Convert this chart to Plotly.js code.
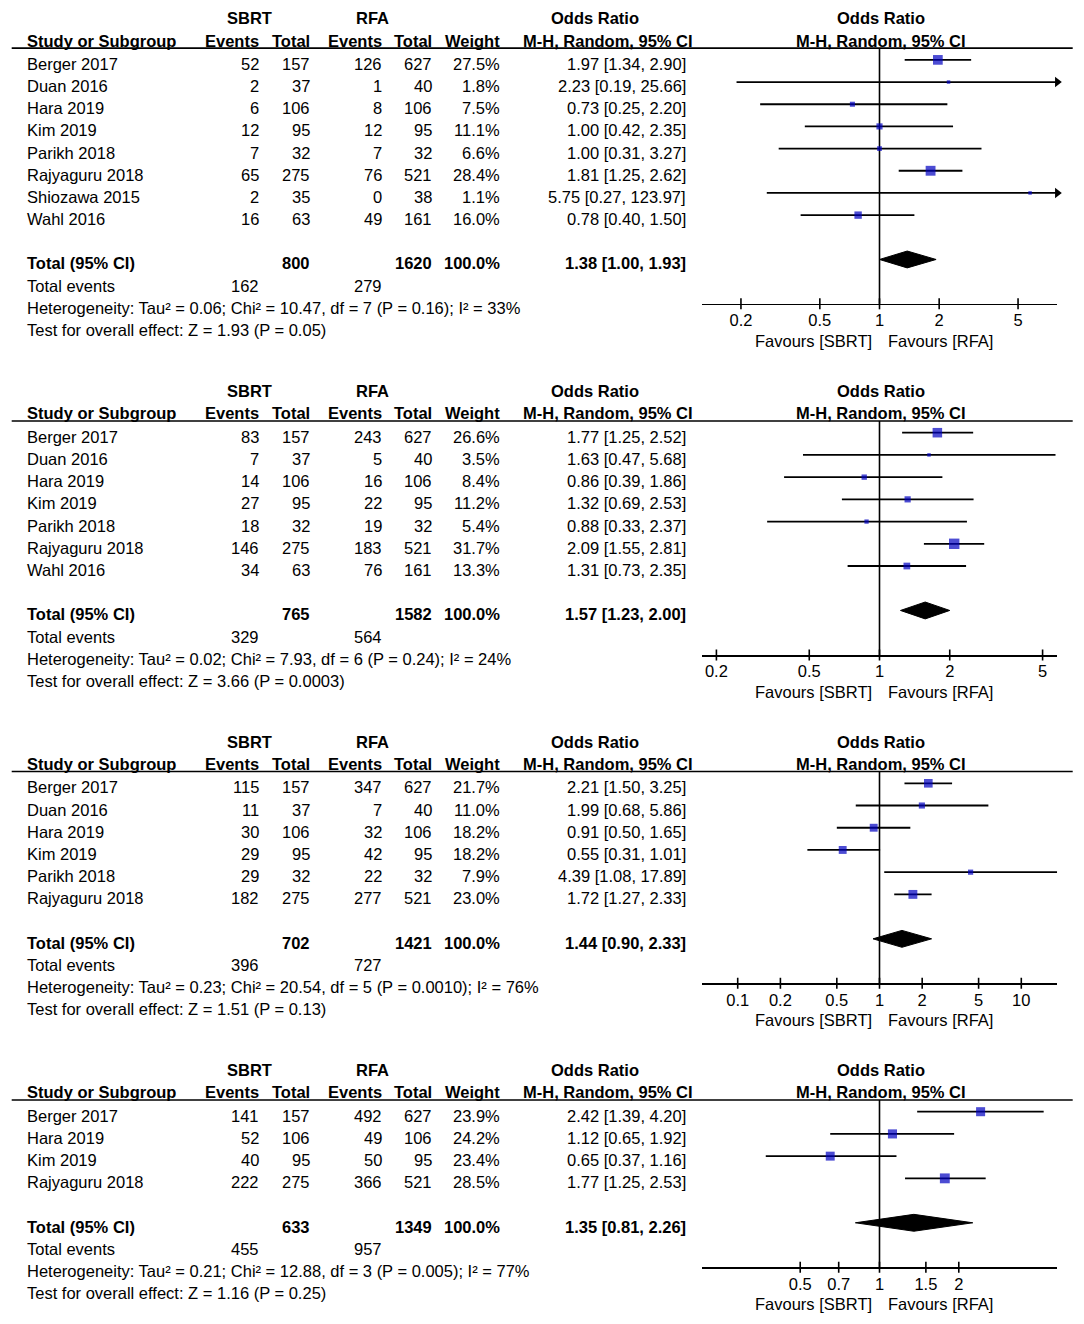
<!DOCTYPE html>
<html><head><meta charset="utf-8">
<script src="https://cdn.plot.ly/plotly-3.0.1.min.js"></script>
<style>html,body{margin:0;padding:0;background:#fff}#chart{width:1084px;height:1324px}</style>
</head><body><div id="chart"></div>
<script>
// ---------------- DATA ----------------
// Panel 1
const studies1 = ["Berger 2017","Duan 2016","Hara 2019","Kim 2019","Parikh 2018","Rajyaguru 2018","Shiozawa 2015","Wahl 2016"];
const sbrtEvents1 = [52,2,6,12,7,65,2,16];
const sbrtTotal1 = [157,37,106,95,32,275,35,63];
const rfaEvents1 = [126,1,8,12,7,76,0,49];
const rfaTotal1 = [627,40,106,95,32,521,38,161];
const weight1 = [27.5,1.8,7.5,11.1,6.6,28.4,1.1,16.0];
const or1 = [1.97,2.23,0.73,1.00,1.00,1.81,5.75,0.78];
const lo1 = [1.34,0.19,0.25,0.42,0.31,1.25,0.27,0.40];
const hi1 = [2.90,25.66,2.20,2.35,3.27,2.62,123.97,1.50];
const totalN1 = [800,1620];
const totalOR1 = [1.38,1.00,1.93];
const totalEvents1 = [162,279];
const het1 = "Heterogeneity: Tau² = 0.06; Chi² = 10.47, df = 7 (P = 0.16); I² = 33%";
const test1 = "Test for overall effect: Z = 1.93 (P = 0.05)";
const ticks1 = [0.2,0.5,1,2,5];

// Panel 2
const studies2 = ["Berger 2017","Duan 2016","Hara 2019","Kim 2019","Parikh 2018","Rajyaguru 2018","Wahl 2016"];
const sbrtEvents2 = [83,7,14,27,18,146,34];
const sbrtTotal2 = [157,37,106,95,32,275,63];
const rfaEvents2 = [243,5,16,22,19,183,76];
const rfaTotal2 = [627,40,106,95,32,521,161];
const weight2 = [26.6,3.5,8.4,11.2,5.4,31.7,13.3];
const or2 = [1.77,1.63,0.86,1.32,0.88,2.09,1.31];
const lo2 = [1.25,0.47,0.39,0.69,0.33,1.55,0.73];
const hi2 = [2.52,5.68,1.86,2.53,2.37,2.81,2.35];
const totalN2 = [765,1582];
const totalOR2 = [1.57,1.23,2.00];
const totalEvents2 = [329,564];
const het2 = "Heterogeneity: Tau² = 0.02; Chi² = 7.93, df = 6 (P = 0.24); I² = 24%";
const test2 = "Test for overall effect: Z = 3.66 (P = 0.0003)";
const ticks2 = [0.2,0.5,1,2,5];

// Panel 3
const studies3 = ["Berger 2017","Duan 2016","Hara 2019","Kim 2019","Parikh 2018","Rajyaguru 2018"];
const sbrtEvents3 = [115,11,30,29,29,182];
const sbrtTotal3 = [157,37,106,95,32,275];
const rfaEvents3 = [347,7,32,42,22,277];
const rfaTotal3 = [627,40,106,95,32,521];
const weight3 = [21.7,11.0,18.2,18.2,7.9,23.0];
const or3 = [2.21,1.99,0.91,0.55,4.39,1.72];
const lo3 = [1.50,0.68,0.50,0.31,1.08,1.27];
const hi3 = [3.25,5.86,1.65,1.01,17.89,2.33];
const totalN3 = [702,1421];
const totalOR3 = [1.44,0.90,2.33];
const totalEvents3 = [396,727];
const het3 = "Heterogeneity: Tau² = 0.23; Chi² = 20.54, df = 5 (P = 0.0010); I² = 76%";
const test3 = "Test for overall effect: Z = 1.51 (P = 0.13)";
const ticks3 = [0.1,0.2,0.5,1,2,5,10];

// Panel 4
const studies4 = ["Berger 2017","Hara 2019","Kim 2019","Rajyaguru 2018"];
const sbrtEvents4 = [141,52,40,222];
const sbrtTotal4 = [157,106,95,275];
const rfaEvents4 = [492,49,50,366];
const rfaTotal4 = [627,106,95,521];
const weight4 = [23.9,24.2,23.4,28.5];
const or4 = [2.42,1.12,0.65,1.77];
const lo4 = [1.39,0.65,0.37,1.25];
const hi4 = [4.20,1.92,1.16,2.53];
const totalN4 = [633,1349];
const totalOR4 = [1.35,0.81,2.26];
const totalEvents4 = [455,957];
const het4 = "Heterogeneity: Tau² = 0.21; Chi² = 12.88, df = 3 (P = 0.005); I² = 77%";
const test4 = "Test for overall effect: Z = 1.16 (P = 0.25)";
const ticks4 = [0.5,0.7,1,1.5,2];

const panels = [
  {studies:studies1,se:sbrtEvents1,st:sbrtTotal1,re:rfaEvents1,rt:rfaTotal1,w:weight1,or:or1,lo:lo1,hi:hi1,tn:totalN1,tor:totalOR1,tev:totalEvents1,het:het1,test:test1,ticks:ticks1},
  {studies:studies2,se:sbrtEvents2,st:sbrtTotal2,re:rfaEvents2,rt:rfaTotal2,w:weight2,or:or2,lo:lo2,hi:hi2,tn:totalN2,tor:totalOR2,tev:totalEvents2,het:het2,test:test2,ticks:ticks2},
  {studies:studies3,se:sbrtEvents3,st:sbrtTotal3,re:rfaEvents3,rt:rfaTotal3,w:weight3,or:or3,lo:lo3,hi:hi3,tn:totalN3,tor:totalOR3,tev:totalEvents3,het:het3,test:test3,ticks:ticks3},
  {studies:studies4,se:sbrtEvents4,st:sbrtTotal4,re:rfaEvents4,rt:rfaTotal4,w:weight4,or:or4,lo:lo4,hi:hi4,tn:totalN4,tor:totalOR4,tev:totalEvents4,het:het4,test:test4,ticks:ticks4}
];

// ---------------- LAYOUT ----------------
const W = 1084, H = 1324, ROW = 22.22;
const row0Px = [59.3, 432.7, 783.3, 1111.7];
const xHalf = [0.897, 0.762, 1.254, 0.675];   // half-range of log10 axes
const FONT = "Liberation Sans, Arial, Helvetica, sans-serif";
const FS = 16.5;
const BLUE = "#0000c0";
const BODY_SHIFT = -4;   // body text sits slightly below the marker rows
const px = p => p / W;
const py = p => 1 - p / H;

// column right edges (px)
const COL = {name:26, se:260, st:311, re:383, rt:433, w:501, or:687, orHead:694};

const traces = [];
const annotations = [];
const shapes = [];
const layout = {
  width: W, height: H,
  margin: {l:0, r:0, t:0, b:0},
  paper_bgcolor: "#fff", plot_bgcolor: "rgba(0,0,0,0)",
  showlegend: false,
  font: {family: FONT, size: FS, color: "#000"}
};

function txt(x, y, yref, text, anchor, bold, shift) {
  annotations.push({
    x: px(x), xref: "paper", y: y, yref: yref,
    text: bold ? "<b>" + text + "</b>" : text,
    showarrow: false, xanchor: anchor, yanchor: "middle",
    yshift: shift || 0,
    font: {family: FONT, size: FS, color: "#000"}, borderpad: 0
  });
}

panels.forEach((p, i) => {
  const n = i + 1;
  const xa = "x" + n, ya = "y" + n;
  const nS = p.studies.length;
  const totalRow = nS + 1, axisRow = nS + 3;
  const r0 = row0Px[i];
  const top = -2.7, bot = axisRow + 2.4;
  const h = xHalf[i];
  const xmax = Math.pow(10, h);
  const rows = p.studies.map((_, k) => k);
  const S = BODY_SHIFT;

  layout["xaxis" + n] = {
    type: "log", range: [-h, h],
    domain: [px(701.7), px(1057.3)],
    anchor: "free", position: py(r0 + axisRow * ROW),
    showline: true, linecolor: "#000", linewidth: 1.6,
    ticks: "", ticklabelstandoff: 1,
    tickvals: p.ticks, ticktext: p.ticks.map(String),
    tickfont: {family: FONT, size: FS, color: "#000"},
    showgrid: false, zeroline: false, fixedrange: true
  };
  layout["yaxis" + n] = {
    range: [bot, top],
    domain: [py(r0 + bot * ROW), py(r0 + top * ROW)],
    visible: false, showgrid: false, zeroline: false, fixedrange: true,
    anchor: xa
  };

  // vertical line of no effect
  traces.push({type: "scatter", mode: "lines", x: [1, 1], y: [-0.53, axisRow],
    xaxis: xa, yaxis: ya, line: {color: "#000", width: 1.6}, hoverinfo: "skip"});

  // tick marks crossing the axis line
  const tx = [], ty = [];
  p.ticks.forEach(t => { tx.push(t, t, null); ty.push(axisRow - 5.5 / ROW, axisRow + 5.5 / ROW, null); });
  traces.push({type: "scatter", mode: "lines", x: tx, y: ty, xaxis: xa, yaxis: ya,
    line: {color: "#000", width: 1.6}, hoverinfo: "skip", cliponaxis: false});

  // CI lines
  const cx = [], cy = [];
  rows.forEach(k => {
    cx.push(Math.max(p.lo[k], 1 / xmax), Math.min(p.hi[k], xmax), null);
    cy.push(k, k, null);
  });
  traces.push({type: "scatter", mode: "lines", x: cx, y: cy, xaxis: xa, yaxis: ya,
    line: {color: "#000", width: 1.8}, hoverinfo: "skip"});

  // arrows for CIs beyond axis
  const ax = [], ay = [];
  rows.forEach(k => { if (p.hi[k] > xmax) { ax.push(xmax); ay.push(k); } });
  if (ax.length) traces.push({type: "scatter", mode: "markers", x: ax, y: ay, xaxis: xa, yaxis: ya,
    marker: {symbol: "triangle-right", size: 9, color: "#000"}, cliponaxis: false, hoverinfo: "skip"});

  // squares
  traces.push({type: "scatter", mode: "markers", x: p.or, y: rows, xaxis: xa, yaxis: ya,
    marker: {symbol: "square", size: p.w.map(w => Math.max(3.5, 1.85 * Math.sqrt(w))), color: BLUE,
      line: {width: 0}}, hoverinfo: "skip", cliponaxis: false});

  // diamond
  const [tor, tlo, thi] = p.tor;
  traces.push({type: "scatter", mode: "lines", fill: "toself", fillcolor: "#000",
    x: [tlo, tor, thi, tor, tlo], y: [totalRow, totalRow - 0.38, totalRow, totalRow + 0.38, totalRow],
    xaxis: xa, yaxis: ya, line: {color: "#000", width: 1}, hoverinfo: "skip"});

  // header rule
  shapes.push({type: "line", xref: "paper", yref: ya, x0: px(11.7), x1: px(1072.7), y0: -0.53, y1: -0.53,
    line: {color: "#000", width: 1.6}});

  // header texts
  txt(249.5, -1.88, ya, "SBRT", "center", true);
  txt(372, -1.88, ya, "RFA", "center", true);
  txt(595, -1.88, ya, "Odds Ratio", "center", true);
  txt(881, -1.88, ya, "Odds Ratio", "center", true);
  txt(COL.name, -0.87, ya, "Study or Subgroup", "left", true);
  txt(COL.se, -0.87, ya, "Events", "right", true);
  txt(COL.st, -0.87, ya, "Total", "right", true);
  txt(COL.re, -0.87, ya, "Events", "right", true);
  txt(COL.rt, -0.87, ya, "Total", "right", true);
  txt(COL.w, -0.87, ya, "Weight", "right", true);
  txt(COL.orHead, -0.87, ya, "M-H, Random, 95% CI", "right", true);
  txt(881, -0.87, ya, "M-H, Random, 95% CI", "center", true);

  // study rows
  rows.forEach(k => {
    txt(COL.name, k, ya, p.studies[k], "left", false, S);
    txt(COL.se, k, ya, String(p.se[k]), "right", false, S);
    txt(COL.st, k, ya, String(p.st[k]), "right", false, S);
    txt(COL.re, k, ya, String(p.re[k]), "right", false, S);
    txt(COL.rt, k, ya, String(p.rt[k]), "right", false, S);
    txt(COL.w, k, ya, p.w[k].toFixed(1) + "%", "right", false, S);
    txt(COL.or, k, ya, p.or[k].toFixed(2) + " [" + p.lo[k].toFixed(2) + ", " + p.hi[k].toFixed(2) + "]", "right", false, S);
  });

  // totals
  txt(COL.name, totalRow, ya, "Total (95% CI)", "left", true, S);
  txt(COL.st, totalRow, ya, String(p.tn[0]), "right", true, S);
  txt(COL.rt, totalRow, ya, String(p.tn[1]), "right", true, S);
  txt(COL.w, totalRow, ya, "100.0%", "right", true, S);
  txt(COL.or, totalRow, ya, tor.toFixed(2) + " [" + tlo.toFixed(2) + ", " + thi.toFixed(2) + "]", "right", true, S);
  txt(COL.name, totalRow + 1, ya, "Total events", "left", false, S);
  txt(COL.se, totalRow + 1, ya, String(p.tev[0]), "right", false, S);
  txt(COL.re, totalRow + 1, ya, String(p.tev[1]), "right", false, S);
  txt(COL.name, totalRow + 2, ya, p.het, "left", false, S);
  txt(COL.name, totalRow + 3, ya, p.test, "left", false, S);

  // favours labels
  txt(872.7, axisRow + 1.66, ya, "Favours [SBRT]", "right", false);
  txt(887.3, axisRow + 1.66, ya, "Favours [RFA]", "left", false);
});

layout.annotations = annotations;
layout.shapes = shapes;

Plotly.newPlot("chart", traces, layout, {staticPlot: true, displayModeBar: false});
</script>
</body></html>
